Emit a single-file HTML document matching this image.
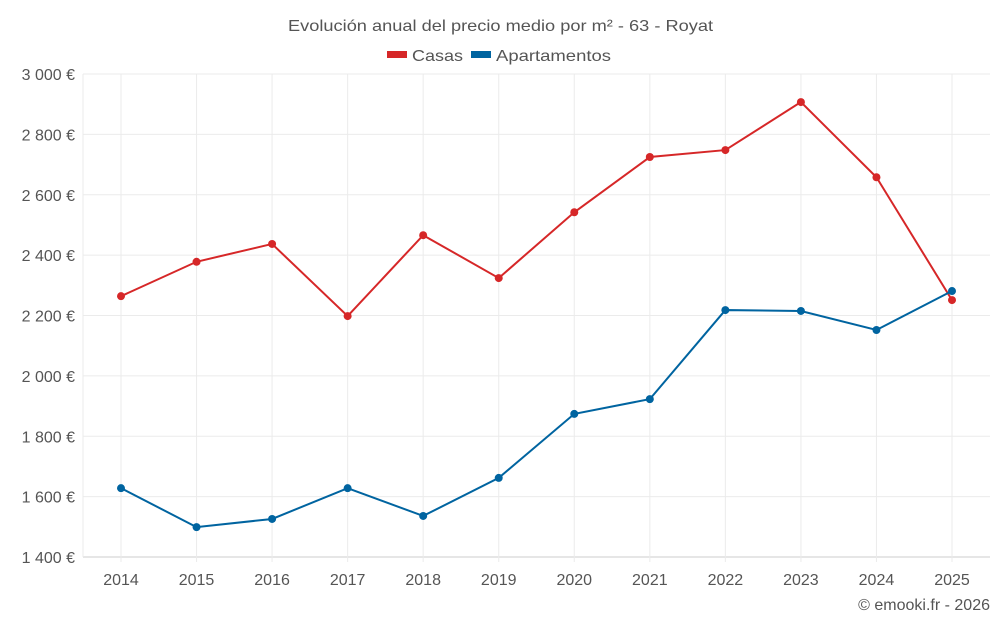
<!DOCTYPE html>
<html><head><meta charset="utf-8"><style>
body{margin:0;background:#fff;font-family:"Liberation Sans",sans-serif}
svg text{font-family:"Liberation Sans",sans-serif;fill:#555}
</style></head><body>
<svg id="chart" width="1000" height="625">
<text x="288" y="31" font-size="16" textLength="425" lengthAdjust="spacingAndGlyphs">Evolución anual del precio medio por m² - 63 - Royat</text>
<g>
<g><rect x="387" y="51" width="20" height="7" fill="#d62728"/><text x="412" y="61" font-size="16" textLength="51" lengthAdjust="spacingAndGlyphs">Casas</text></g>
<g><rect x="471" y="51" width="20" height="7" fill="#0064a0"/><text x="496" y="61" font-size="16" textLength="115" lengthAdjust="spacingAndGlyphs">Apartamentos</text></g>
</g>
<g id="grid"></g><g id="axes"></g><g id="series"></g>
<text x="990" y="610" text-anchor="end" font-size="16">© emooki.fr - 2026</text>
</svg>
<script>
const years=["2014","2015","2016","2017","2018","2019","2020","2021","2022","2023","2024","2025"];
const casas=[2264,2378,2437,2198,2466,2324,2542,2725,2748,2907,2658,2251];
const apartamentos=[1628,1499,1526,1628,1536,1662,1874,1923,2218,2215,2152,2281];
const yTicks=[1400,1600,1800,2000,2200,2400,2600,2800,3000];
const yTickLabels=["1 400 €","1 600 €","1 800 €","2 000 €","2 200 €","2 400 €","2 600 €","2 800 €","3 000 €"];
const NS="http://www.w3.org/2000/svg";
const L=83,R=990,T=74,B=557,yMin=1400,yMax=3000;
const x=i=>121+i*(952-121)/(years.length-1);
const y=v=>B-(v-yMin)/(yMax-yMin)*(B-T);
function mk(tag,attrs,parent){const e=document.createElementNS(NS,tag);for(const k in attrs)e.setAttribute(k,attrs[k]);document.getElementById(parent).appendChild(e);return e;}
yTicks.forEach((t,i)=>{
 const g=mk('line',{x1:L,x2:R,y1:y(t),y2:y(t),stroke:i==0?'#ccc':'#ebebeb'},'grid');
 
 
 const tx=mk('text',{x:75,y:y(t)+6,'text-anchor':'end','font-size':'16'},'axes');
 tx.textContent=yTickLabels[i];
 
 
});
mk('line',{x1:L,x2:L,y1:T,y2:B,stroke:'#ebebeb'},'grid');
years.forEach((yr,i)=>{
 const g=mk('line',{x1:x(i),x2:x(i),y1:T,y2:B+5,stroke:'#ebebeb'},'grid');
 
 
 const tx=mk('text',{x:x(i),y:585,'text-anchor':'middle','font-size':'16'},'axes');
 tx.textContent=yr;
 
 
});
function series(vals,color,name){
 const p=mk('polyline',{points:vals.map((v,i)=>x(i)+','+y(v)).join(' '),fill:'none',stroke:color,'stroke-width':2},'series');
 
 
 vals.forEach((v,i)=>{
  const c=mk('circle',{cx:x(i),cy:y(v),r:4,fill:color},'series');
  
  
 });
}
series(casas,'#d62728','casas');
series(apartamentos,'#0064a0','apartamentos');
</script>
</body></html>
